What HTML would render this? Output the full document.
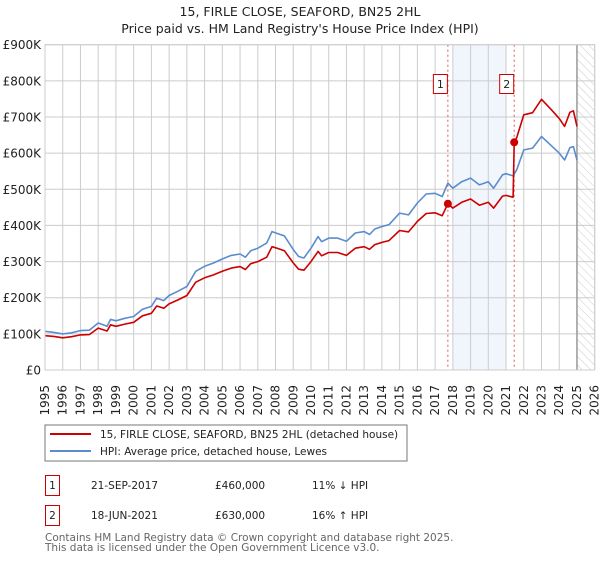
<!DOCTYPE html>
<html><head><meta charset="utf-8"><style>
body{margin:0;background:#fff;}
svg text{font-family:"DejaVu Sans","Liberation Sans",sans-serif;}
</style></head><body>
<svg id="chart" width="600" height="560" viewBox="0 0 600 560">
<defs><pattern id="hatch" width="6" height="6" patternUnits="userSpaceOnUse" patternTransform="rotate(-45)"><line x1="0" y1="0" x2="0" y2="6" stroke="#ccc" stroke-width="1"/></pattern></defs>
<text x="300" y="16" text-anchor="middle" font-size="12.5" fill="#222">15, FIRLE CLOSE, SEAFORD, BN25 2HL</text>
<text x="300" y="33" text-anchor="middle" font-size="12.5" fill="#222">Price paid vs. HM Land Registry's House Price Index (HPI)</text>
<g id="plot"></g>
<rect x="45" y="425" width="362" height="36" fill="#fff" stroke="#777"/>
<line x1="50" y1="434" x2="91" y2="434" stroke="#cc0000" stroke-width="2"/>
<text x="100" y="438" font-size="10.5" fill="#222">15, FIRLE CLOSE, SEAFORD, BN25 2HL (detached house)</text>
<line x1="50" y1="451" x2="91" y2="451" stroke="#5b8ccf" stroke-width="2"/>
<text x="100" y="455" font-size="10.5" fill="#222">HPI: Average price, detached house, Lewes</text>
<rect x="45.5" y="475.5" width="14" height="20" fill="#fff" stroke="#cc0000"/>
<text x="52.5" y="489" text-anchor="middle" font-size="10.5" fill="#222">1</text>
<text x="91" y="489" font-size="10.5" fill="#222">21-SEP-2017</text>
<text x="215" y="489" font-size="10.5" fill="#222">£460,000</text>
<text x="312" y="489" font-size="10.5" fill="#222">11% ↓ HPI</text>
<rect x="45.5" y="505.5" width="14" height="20" fill="#fff" stroke="#cc0000"/>
<text x="52.5" y="519" text-anchor="middle" font-size="10.5" fill="#222">2</text>
<text x="91" y="519" font-size="10.5" fill="#222">18-JUN-2021</text>
<text x="215" y="519" font-size="10.5" fill="#222">£630,000</text>
<text x="312" y="519" font-size="10.5" fill="#222">16% ↑ HPI</text>
<text x="45" y="541" font-size="10.5" fill="#666">Contains HM Land Registry data © Crown copyright and database right 2025.</text>
<text x="45" y="551" font-size="10.5" fill="#666">This data is licensed under the Open Government Licence v3.0.</text>
</svg>
<script>
const yTickValues=[0,100,200,300,400,500,600,700,800,900];
const yTickLabels=["£0","£100K","£200K","£300K","£400K","£500K","£600K","£700K","£800K","£900K"];
const xTickYears=[1995,1996,1997,1998,1999,2000,2001,2002,2003,2004,2005,2006,2007,2008,2009,2010,2011,2012,2013,2014,2015,2016,2017,2018,2019,2020,2021,2022,2023,2024,2025,2026];
const hpiYears=[1995,1995.5,1996,1996.5,1997,1997.5,1998,1998.5,1998.7,1999,1999.5,2000,2000.5,2001,2001.3,2001.7,2002,2002.5,2003,2003.5,2004,2004.5,2005,2005.5,2006,2006.3,2006.6,2007,2007.5,2007.8,2008.2,2008.5,2009,2009.3,2009.6,2010,2010.4,2010.6,2011,2011.5,2012,2012.5,2013,2013.3,2013.6,2014,2014.4,2015,2015.5,2016,2016.5,2017,2017.4,2017.72,2018,2018.5,2019,2019.5,2020,2020.3,2020.8,2021,2021.4,2021.6,2022,2022.5,2023,2023.5,2024,2024.3,2024.6,2024.8,2025];
const hpiValues=[107,104,100,103,109,110,130,121,140,136,143,148,168,176,199,192,206,218,231,273,287,296,307,317,321,312,330,337,351,383,376,371,333,314,310,337,369,355,365,365,356,379,383,375,390,397,402,434,429,462,487,489,480,517,503,521,531,512,521,503,540,543,537,554,609,614,646,623,600,581,615,618,581];
const priceYears=[1995,1995.5,1996,1996.5,1997,1997.5,1998,1998.5,1998.7,1999,1999.5,2000,2000.5,2001,2001.3,2001.7,2002,2002.5,2003,2003.5,2004,2004.5,2005,2005.5,2006,2006.3,2006.6,2007,2007.5,2007.8,2008.2,2008.5,2009,2009.3,2009.6,2010,2010.4,2010.6,2011,2011.5,2012,2012.5,2013,2013.3,2013.6,2014,2014.4,2015,2015.5,2016,2016.5,2017,2017.4,2017.72,2018,2018.5,2019,2019.5,2020,2020.3,2020.8,2021,2021.4,2021.46,2021.6,2022,2022.5,2023,2023.5,2024,2024.3,2024.6,2024.8,2025];
const priceValues=[95,93,89,92,97,98,116,108,125,121,127,132,150,157,177,171,183,194,206,243,255,263,273,282,286,278,294,300,312,341,335,330,296,279,276,300,328,316,325,325,317,337,341,334,347,353,358,386,382,411,433,435,427,460,448,464,473,456,464,448,481,483,478,630,643,706,712,749,723,696,674,713,717,674];
const saleYears=[2017.72,2021.46];
const saleValues=[460,630];
const saleLabels=["1","2"];

const NS="http://www.w3.org/2000/svg";
const L=45,R=594.7,T=44.7,B=370,x0=1995,x1=2026,vMax=900;
const X=y=>L+(y-x0)/(x1-x0)*(R-L);
const Y=v=>B-v/vMax*(B-T);
const g=document.getElementById('plot');
function mk(tag,attrs,parent){const e=document.createElementNS(NS,tag);for(const k in attrs)e.setAttribute(k,attrs[k]);(parent||g).appendChild(e);return e;}

let e=mk('rect',{x:X(2018),y:T,width:X(2021)-X(2018),height:B-T,fill:'#eef2fb',opacity:0.8});


e=mk('rect',{x:X(2025),y:T,width:R-X(2025),height:B-T,fill:'url(#hatch)'});


xTickYears.forEach(yr=>{
  const l=mk('line',{x1:X(yr),x2:X(yr),y1:T,y2:B,stroke:'#ccc','stroke-width':1});
  
  
  const t=mk('text',{x:X(yr),y:381,'font-size':12,fill:'#222','text-anchor':'end',transform:`rotate(-90 ${X(yr)+4} 381)`});
  t.textContent=yr;
  
  
});
yTickValues.forEach((v,i)=>{
  const l=mk('line',{x1:L,x2:R,y1:Y(v),y2:Y(v),stroke:'#ccc','stroke-width':1});
  
  
  const t=mk('text',{x:41,y:Y(v)+4.5,'font-size':12,fill:'#222','text-anchor':'end'});
  t.textContent=yTickLabels[i];
  
  
});
e=mk('line',{x1:X(2025),x2:X(2025),y1:T,y2:B,stroke:'#999','stroke-width':1.5});


saleYears.forEach((yr,i)=>{
  const l=mk('line',{x1:X(yr),x2:X(yr),y1:T,y2:B,stroke:'#e05555','stroke-width':1,'stroke-dasharray':'2,3'});
  
  
});
function path(xs,vs,color,name){
  const d=xs.map((yr,i)=>(i?'L':'M')+X(yr).toFixed(1)+','+Y(vs[i]).toFixed(1)).join('');
  const p=mk('path',{d:d,fill:'none',stroke:color,'stroke-width':1.6,'stroke-linejoin':'round'});
  
  
}
path(hpiYears,hpiValues,'#5b8ccf','hpi-line');
path(priceYears,priceValues,'#cc0000','price-paid-line');
saleYears.forEach((yr,i)=>{
  const c=mk('circle',{cx:X(yr),cy:Y(saleValues[i]),r:4,fill:'#cc0000'});
  
  
  const bx=X(yr)-14;
  const r=mk('rect',{x:bx-0.5,y:74.5,width:14,height:19,fill:'#fff',stroke:'#cc0000'});
  
  
  const t=mk('text',{x:bx+6.5,y:88,'font-size':11,fill:'#222','text-anchor':'middle'});
  t.textContent=saleLabels[i];
  
  
});
e=mk('rect',{x:L,y:T,width:R-L,height:B-T,fill:'none',stroke:'#ccc'});


</script>
</body></html>
